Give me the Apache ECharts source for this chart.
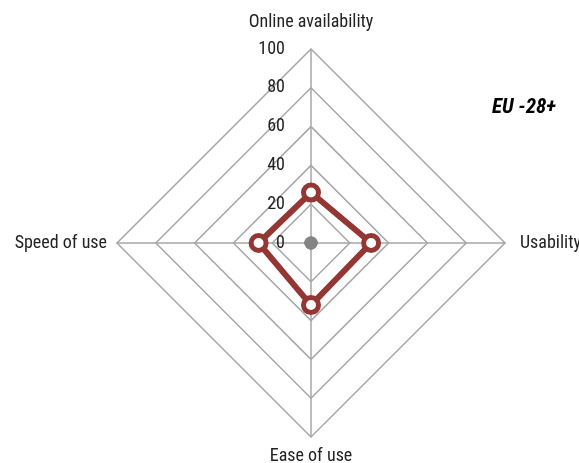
<!DOCTYPE html>
<html>
<head>
<meta charset="utf-8">
<script src="https://cdn.jsdelivr.net/npm/echarts@6/dist/echarts.min.js"></script>
<style>
  html, body { margin: 0; padding: 0; background: #fff; }
  #chart { width: 579px; height: 463px; }
</style>
</head>
<body>
<div id="chart"></div>
<script>
// 축 이름 (위에서 시작, 반시계방향: 위 → 왼쪽 → 아래 → 오른쪽)
const INDICATORS = ["Online availability", "Speed of use", "Ease of use", "Usability"];
const NAME_GAPS = [18, 10, 10, 15];
const MAX_VALUE = 100;
const EU_VALUES = [26, 27, 32, 31];
const ORIGIN_VALUES = [0, 0, 0, 0];  // 중심의 회색 점
const LEGEND_TEXT = "EU -28+";

const FONT = "'Roboto Condensed', 'Liberation Sans Narrow', 'Roboto', sans-serif";
const GRID_COLOR = "#a6a6a6";

const chart = echarts.init(document.getElementById("chart"));

chart.setOption({
  animation: false,
  graphic: [{
    type: "text",
    right: 23,
    top: 97,
    style: {
      text: LEGEND_TEXT,
      font: `italic bold 21px ${FONT}`,
      fill: "#000",
    },
  }],
  radar: {
    center: [311, 243],
    radius: 194,
    startAngle: 90,
    shape: "polygon",
    splitNumber: 5,
    nameGap: 12,
    axisName: { color: "#222", fontSize: 18, fontFamily: FONT },
    indicator: INDICATORS.map((name, i) => ({
      name,
      max: MAX_VALUE,
      min: 0,
      nameGap: NAME_GAPS[i],
      // 첫 번째(위쪽) 축에만 눈금 값 표시
      axisLabel: i === 0 ? { show: true } : undefined,
    })),
    axisLine: { lineStyle: { color: GRID_COLOR, width: 1.5 } },
    splitLine: { lineStyle: { color: GRID_COLOR, width: 1.5 } },
    splitArea: { show: false },
    axisTick: { show: false },
    axisLabel: {
      show: false,
      color: "#222",
      fontSize: 18,
      fontFamily: FONT,
      margin: 26,
      padding: [5, 0, 0, 0],
    },
  },
  series: [
    {
      type: "radar",
      z: 3,
      symbol: "circle",
      symbolSize: 13,
      lineStyle: { width: 0, opacity: 0 },
      itemStyle: { color: "#858585" },
      data: [{ value: ORIGIN_VALUES, name: "origin" }],
    },
    {
      type: "radar",
      z: 4,
      symbol: "circle",
      symbolSize: 15,
      lineStyle: { color: "#943634", width: 6 },
      itemStyle: { color: "#fff", borderColor: "#943634", borderWidth: 5 },
      data: [{ value: EU_VALUES, name: LEGEND_TEXT }],
    },
  ],
});
</script>
</body>
</html>
